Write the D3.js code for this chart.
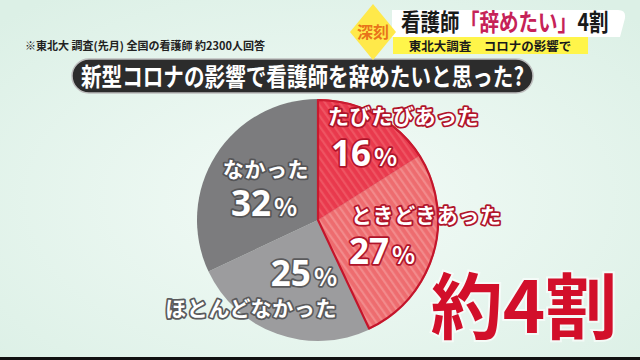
<!DOCTYPE html>
<html><head><meta charset="utf-8">
<script src="https://cdn.jsdelivr.net/npm/d3@7"></script>
<style>html,body{margin:0;padding:0;overflow:hidden;background:#e6f5ee}</style>
</head><body>
<script>
const categories = ["たびたびあった","ときどきあった","ほとんどなかった","なかった"];
const values = [16,27,25,32];
const valueLabels = ["16","27","25","32"];
const titleText = "新型コロナの影響で看護師を辞めたいと思った?";
const footnote = "※東北大 調査(先月) 全国の看護師 約2300人回答";
const headlineParts = ["看護師","「辞めたい」","4割"];
const subHeadline = "東北大調査　コロナの影響で";
const badge = "深刻";
const bigText = "約4割";

const W=640,H=360;
const FONT = "'Noto Sans CJK JP','Noto Sans',sans-serif";
const svg = d3.select("body").append("svg").attr("width",W).attr("height",H);
const defs = svg.append("defs");
const bg = defs.append("radialGradient").attr("id","bg").attr("cx","50%").attr("cy","55%").attr("r","70%");
bg.append("stop").attr("offset","0%").attr("stop-color","#f3fbf7");
bg.append("stop").attr("offset","100%").attr("stop-color","#dcf0e6");
svg.append("rect").attr("width",W).attr("height",H).attr("fill","url(#bg)");

function stripes(id, base, line){
  const p = defs.append("pattern").attr("id",id).attr("patternUnits","userSpaceOnUse")
    .attr("width",6).attr("height",6).attr("patternTransform","rotate(-35)");
  p.append("rect").attr("width",6).attr("height",6).attr("fill",base);
  p.append("rect").attr("width",2.2).attr("height",6).attr("fill",line);
}
stripes("s1","#e9394d","#ee5462");
stripes("s2","#ee6c6f","#f28a8b");

const fills = ["url(#s1)","url(#s2)","#9c9c9e","#7c7c7e"];
const cx=318, cy=220, R=121;
const pie = d3.pie().sort(null).value(d=>d);
const arcs = pie(values);
const arc = d3.arc().innerRadius(0).outerRadius(R);
const g = svg.append("g").attr("transform",`translate(${cx},${cy})`);
g.selectAll("path.gray").data(arcs.filter((d,i)=>i>=2)).enter().append("path")
  .attr("d",arc).attr("fill",(d)=>fills[d.index]);
const redG = g.append("g");
redG.selectAll("path").data(arcs.filter((d,i)=>i<2)).enter().append("path")
  .attr("d",arc).attr("fill",d=>fills[d.index]);
const redArc = {startAngle:arcs[0].startAngle, endAngle:arcs[1].endAngle};
redG.append("path").attr("d",d3.arc().innerRadius(0).outerRadius(R-1)(redArc))
  .attr("fill","none").attr("stroke","#c4152b").attr("stroke-width",2.2).attr("stroke-linejoin","round");
redG.append("path").attr("d",d3.arc().innerRadius(0).outerRadius(R-1)({startAngle:arcs[0].startAngle,endAngle:arcs[0].endAngle}))
  .attr("fill","none").attr("stroke","#d42a3c").attr("stroke-width",0.8).attr("opacity",0.6);

const labelLayout = [
  {nx:328, ny:124, px:331, py:166, anchor:"start", oc:"#b0142a"},
  {nx:351, ny:223, px:349, py:264, anchor:"start", oc:"#b0142a"},
  {nx:337, ny:316, px:337, py:286, anchor:"end", oc:"#5a5a5c"},
  {nx:266, ny:177, px:264, py:216, anchor:"middle", oc:"#555557"}
];
const lab = svg.append("g").attr("font-family",FONT).attr("font-weight",700)
  .attr("fill","#fff").attr("paint-order","stroke").attr("stroke-linejoin","round");
categories.forEach((c,i)=>{
  const L = labelLayout[i];
  lab.append("text").attr("x",L.nx).attr("y",L.ny).attr("text-anchor",L.anchor)
    .attr("font-size",21).attr("stroke",L.oc).attr("stroke-width",3.5).attr("letter-spacing",0.6).text(c);
  const t = lab.append("text").attr("x",L.px).attr("y",L.py).attr("text-anchor",L.anchor)
    .attr("stroke",L.oc).attr("stroke-width",3.5);
  t.append("tspan").attr("font-size",35).attr("font-family","'Noto Sans','DejaVu Sans',sans-serif").text(valueLabels[i]);
  t.append("tspan").attr("font-size",24).attr("dx",3).text("%");
});

svg.append("rect").attr("x",72).attr("y",59).attr("width",461).attr("height",34).attr("rx",17)
  .attr("fill","#2c2c2c").attr("stroke","#bdbdbd").attr("stroke-width",1.5);
svg.append("text").attr("x",81).attr("y",86).attr("font-family",FONT).attr("font-weight",700)
  .attr("font-size",25).attr("fill","#fff").attr("textLength",443).attr("lengthAdjust","spacingAndGlyphs").text(titleText);

svg.append("text").attr("x",25).attr("y",50).attr("font-family",FONT).attr("font-weight",700)
  .attr("font-size",11).attr("fill","#222").attr("textLength",240).attr("lengthAdjust","spacingAndGlyphs").text(footnote);

svg.append("path").attr("d","M392,10 L618,10 Q628,10 624,22 L620,37 L392,37 Z").attr("fill","#fff");
svg.append("rect").attr("x",393).attr("y",37).attr("width",195).attr("height",17).attr("fill","#fff54a");
const headColors = ["#1a1a1a","#c62258","#1a1a1a"];
const hg = svg.append("g");
let hx = 0;
headlineParts.forEach((p,i)=>{
  const t = hg.append("text").attr("x",hx).attr("y",0).attr("font-family",FONT).attr("font-weight",700)
    .attr("font-size",24).attr("fill",headColors[i]).text(p);
  hx += t.node().getComputedTextLength() + 0.5;
});
const hs = 208 / hx;
hg.attr("transform",`translate(401,31) scale(${hs},1)`);

svg.append("text").attr("x",490).attr("y",51).attr("text-anchor","middle").attr("font-family",FONT).attr("font-weight",700)
  .attr("font-size",12.5).attr("fill","#1a1a1a").text(subHeadline);
svg.append("path").attr("d","M373,4 L396,32 L373,60 L350,32 Z").attr("fill","#ffe94a");
svg.append("text").attr("x",373).attr("y",38).attr("text-anchor","middle").attr("font-family",FONT).attr("font-weight",700)
  .attr("font-size",16).attr("fill","#e8741a").text(badge);

svg.append("text").attr("x",524).attr("y",333).attr("text-anchor","middle").attr("font-family",FONT).attr("font-weight",700)
  .attr("font-size",72).attr("fill","#d20f2a").attr("stroke","#fff").attr("stroke-width",4).attr("paint-order","stroke")
  .attr("stroke-opacity",0.6).text(bigText);

svg.append("rect").attr("x",0).attr("y",357).attr("width",W).attr("height",3).attr("fill","#111");
</script>
</body></html>
